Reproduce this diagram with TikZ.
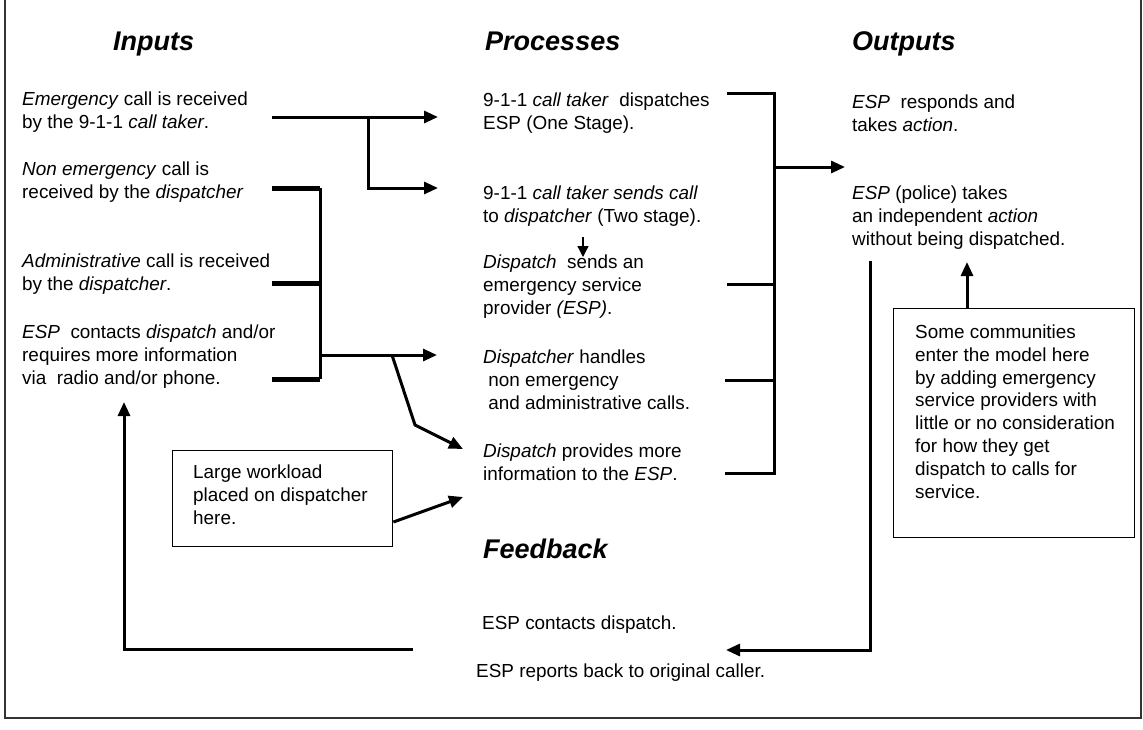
\documentclass[tikz,border=0pt]{standalone}
\usepackage{fontspec}
\setmainfont{Liberation Sans}
\usetikzlibrary{arrows.meta, positioning}

\begin{document}
\begin{tikzpicture}[x=1pt, y=-1pt,
		txt/.style={anchor=north west, align=left, inner sep=0pt, font=\fontsize{18.9}{22.8}\selectfont},
		head/.style={anchor=base west, inner sep=0pt, font=\fontsize{27}{32}\selectfont\bfseries\itshape},
		note/.style={draw, line width=1.4pt, anchor=north west, inner sep=0pt},
		link/.style={line width=3pt, -{Triangle[length=14pt, width=12pt]}},
		tiny/.style={line width=1.3pt, -{Triangle[length=11pt, width=11pt]}},
		bar/.style={line width=3pt},
		fat/.style={line width=5pt},
		frame/.style={line width=1.4pt, black!80}
	]
	\useasboundingbox (0,0) rectangle (1143,729);
	\draw[frame] (5,0) -- (5,718) -- (1141,718) -- (1141,0);

	\node[head] (inputs)    at (113,50)  {Inputs};
	\node[head] (processes) at (485,50)  {Processes};
	\node[head] (outputs)   at (852,50)  {Outputs};
	\node[head] (feedback)  at (483,558) {Feedback};

	\node[txt] (in1) at (22,91.5)  {\emph{Emergency} call is received\\by the 9-1-1 \emph{call taker}.};
	\node[txt] (in2) at (22,161.5) {\emph{Non emergency} call is\\received by the \emph{dispatcher}};
	\node[txt] (in3) at (22,253.5) {\emph{Administrative} call is received\\by the \emph{dispatcher}.};
	\node[txt] (in4) at (22,324.5) {\emph{ESP}\ \ contacts \emph{dispatch} and/or\\requires more information\\via\ \ radio and/or phone.};

	\node[txt] (pr1) at (483,93)    {9-1-1 \emph{call taker}\ \ dispatches\\ESP (One Stage).};
	\node[txt] (pr2) at (483,185.5) {9-1-1 \emph{call taker sends call}\\to \emph{dispatcher} (Two stage).};
	\node[txt] (pr3) at (483,254.5) {\emph{Dispatch}\ \ sends an\\emergency service\\provider \emph{(ESP)}.};
	\node[txt] (pr4) at (483,349.5) {\emph{Dispatcher} handles\\\ non emergency\\\ and administrative calls.};
	\node[txt] (pr5) at (483,443.5) {\emph{Dispatch} provides more\\information to the \emph{ESP}.};

	\node[txt] (out1) at (852,94.5)  {\emph{ESP}\ \ responds and\\takes \emph{action}.};
	\node[txt] (out2) at (852,185.5) {\emph{ESP} (police) takes\\an independent \emph{action}\\without being dispatched.};

	\node[txt] (fb1) at (482,615.5) {ESP contacts dispatch.};
	\node[txt] (fb2) at (476,663.5) {ESP reports back to original caller.};

	\node[note, minimum width=220pt, minimum height=96pt] (work) at (172,450) {};
	\node[txt] (worktxt) at (193,464.5) {Large workload\\placed on dispatcher\\here.};
	\node[note, minimum width=241pt, minimum height=229pt] (comm) at (893,308) {};
	\node[txt] (commtxt) at (915,324.5) {Some communities\\enter the model here\\by adding emergency\\service providers with\\little or no consideration\\for how they get\\dispatch to calls for\\service.};

	\coordinate (emg)   at (272,117);
	\coordinate (split) at (368,117);
	\coordinate (toone) at (438,117);
	\coordinate (totwo) at (438,188);
	\draw[link] (emg) -- (toone);
	\draw[link] (split) |- (totwo);

	\coordinate (bk)    at (320,188);
	\coordinate (bkend) at (320,379);
	\coordinate (bkout) at (320,355);
	\coordinate (bkmid) at (392,355);
	\coordinate (tohandle) at (437,355);
	\coordinate (bend)  at (415,425);
	\coordinate (toinfo) at (463,449);
	\draw[fat] (272,188) -- (bk);
	\draw[fat] (272,283) -- (bk |- 0,283);
	\draw[fat] (272,379) -- (bkend);
	\draw[bar] (bk) -- (bkend);
	\draw[link] (bkout) -- (tohandle);
	\draw[link] (bkmid) -- (bend) -- (toinfo);

	\coordinate (toload) at (463,497);
	\draw[link] (work.east |- 0,522) -- (toload);

	\coordinate (sendtop) at (583,237);
	\coordinate (sendbot) at (583,257);
	\draw[tiny] (sendtop) -- (sendbot);

	\coordinate (pb)    at (774,93);
	\coordinate (pbend) at (774,473);
	\coordinate (pbout) at (774,167);
	\coordinate (tooutput) at (845,167);
	\draw[bar] (727,93) -- (pb) -- (pbend) -- (725,473);
	\draw[bar] (727,284) -- (pb |- 0,284);
	\draw[bar] (725,380) -- (pb |- 0,380);
	\draw[link] (pbout) -- (tooutput);

	\coordinate (fbtop) at (870,261);
	\coordinate (fbcorner) at (870,650);
	\coordinate (toreport) at (726,650);
	\draw[link] (fbtop) -- (fbcorner) -- (toreport);

	\coordinate (backstart) at (413,649);
	\coordinate (backcorner) at (124,649);
	\coordinate (toinput) at (124,402);
	\draw[link] (backstart) -- (backcorner) -- (toinput);

	\coordinate (toindep) at (967,262);
	\draw[link] (comm.north -| toindep) -- (toindep);
\end{tikzpicture}
\end{document}
